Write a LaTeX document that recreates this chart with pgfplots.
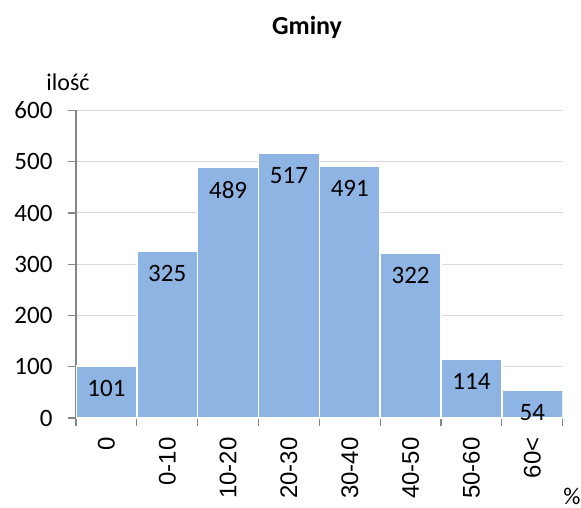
\documentclass[border=0pt]{standalone}
\usepackage{pgfplots}
\pgfplotsset{compat=1.18}
\usepackage{fontspec}
\setmainfont{Carlito}
\newfontfamily\arialf{Liberation Sans}
\definecolor{barblue}{RGB}{142,180,227}
\definecolor{gridgray}{RGB}{217,217,217}
\definecolor{axisgray}{RGB}{134,134,134}
\begin{document}
\begin{tikzpicture}
\path[use as bounding box] (-76bp,-90bp) rectangle (505bp,418bp);
\begin{axis}[
  at={(0,0)}, anchor=south west,
  scale only axis, width=486.7bp, height=307.5bp,
  xmin=0, xmax=8, ymin=0, ymax=600,
  /pgf/number format/assume math mode=true,
  axis x line*=bottom, axis y line*=left,
  ytick={0,100,...,600},
  ymajorgrids, grid style={gridgray, line width=1bp},
  xtick={0.5,1.5,...,7.5},
  xticklabels={0,0-10,10-20,20-30,30-40,40-50,50-60,60<},
  minor xtick={0,1,...,8},
  major x tick style={draw=none},
  tick align=outside,
  major tick length=8bp, minor tick length=8bp,
  tick style={axisgray, line width=1.2bp},
  axis line style={axisgray, line width=1.2bp},
  yticklabel style={font=\fontsize{25bp}{29bp}\selectfont, xshift=-12bp},
  xticklabel style={font=\arialf\fontsize{24bp}{28bp}\selectfont, yshift=-8bp, rotate=90, anchor=east},
  ybar, bar width=1, bar shift=0,
  nodes near coords,
  every node near coord/.append style={anchor=north, yshift=-10bp, font=\fontsize{25bp}{29bp}\selectfont, text=black},
]
\addplot[fill=barblue, draw=white, line width=1.5bp] coordinates {
  (0.5,101) (1.5,325) (2.5,489) (3.5,517) (4.5,491) (5.5,322) (6.5,114) (7.5,54)};
\end{axis}
\node[font=\bfseries\fontsize{26bp}{30bp}\selectfont] at (231bp,391bp) {Gminy};
\node[font=\fontsize{24bp}{28bp}\selectfont] at (-8bp,336bp) {ilość};
\node[font=\fontsize{24bp}{28bp}\selectfont] at (496bp,-78bp) {\%};
\end{tikzpicture}
\end{document}
